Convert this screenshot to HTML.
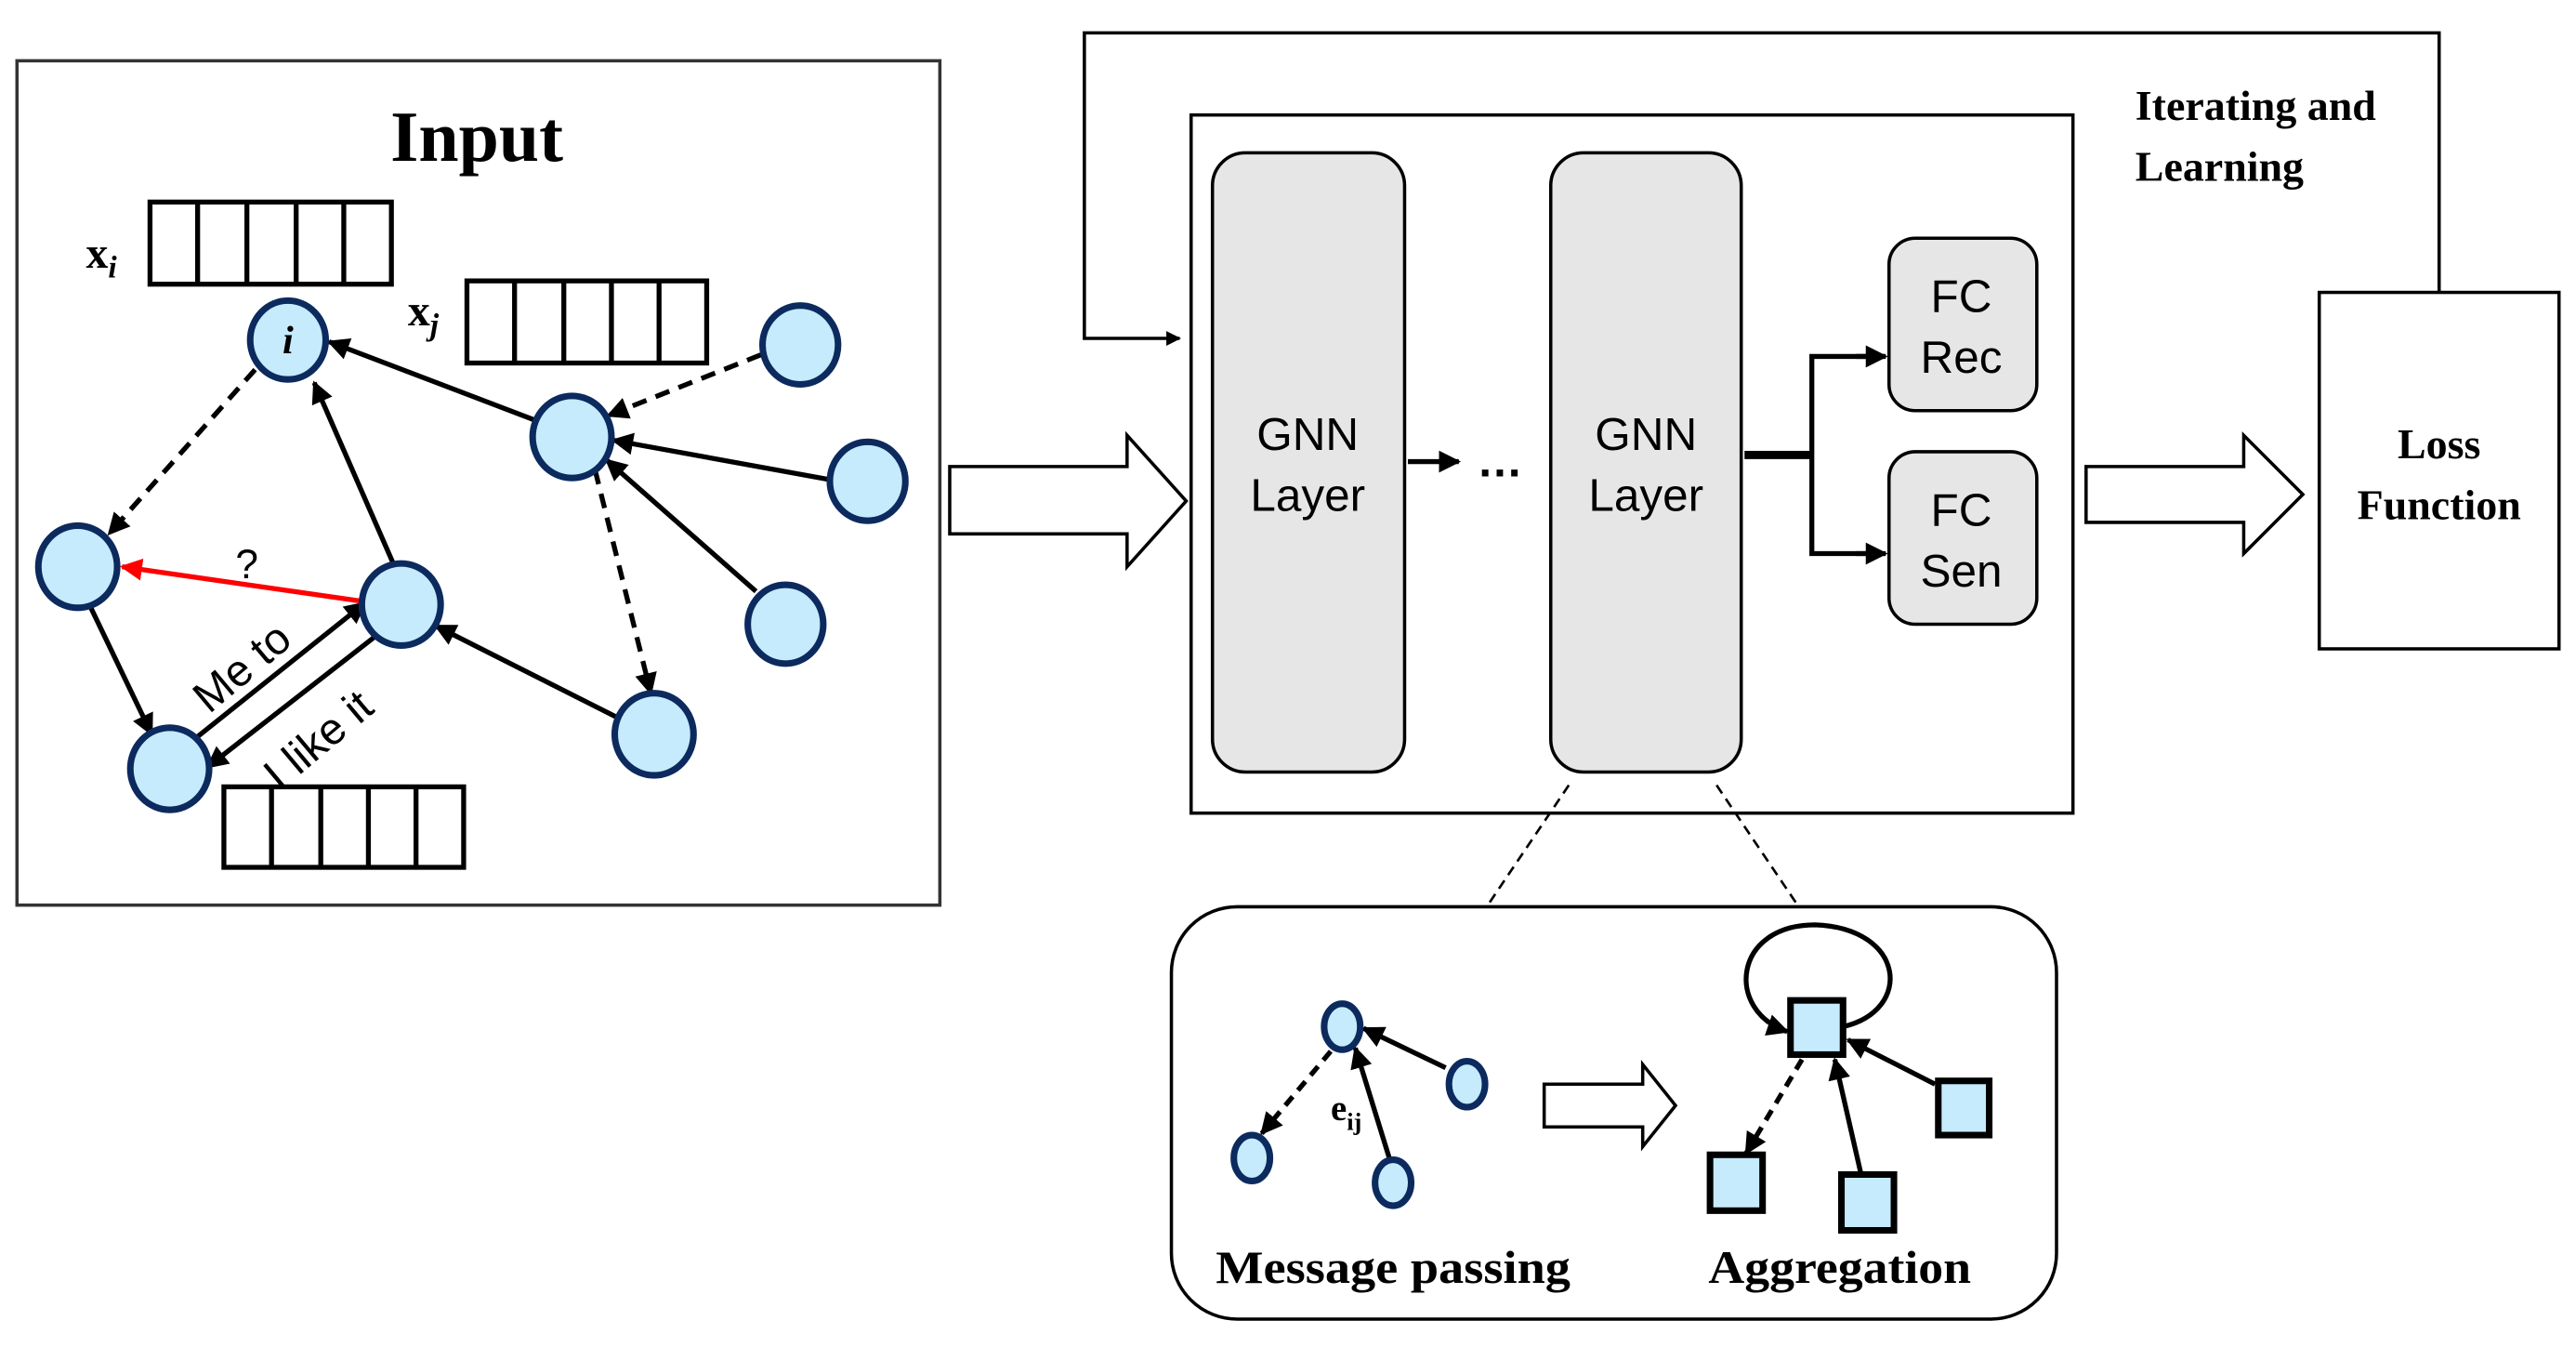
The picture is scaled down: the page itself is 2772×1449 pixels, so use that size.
<!DOCTYPE html>
<html><head><meta charset="utf-8"><style>
html,body{margin:0;padding:0;background:#fff;width:2772px;height:1449px;overflow:hidden}
svg{display:block}
.s{font-family:"Liberation Serif",serif;font-weight:bold}
.a{font-family:"Liberation Sans","DejaVu Sans",sans-serif}
</style></head><body>
<svg width="2772" height="1449" viewBox="0 0 1568 820" xmlns="http://www.w3.org/2000/svg">
<defs>
<marker id="ah" viewBox="0 0 10 10" refX="9" refY="5" markerWidth="4.5" markerHeight="4.5" orient="auto-start-reverse"><path d="M0,0 L10,5 L0,10 z" fill="#000"/></marker>
<marker id="ar" viewBox="0 0 10 10" refX="9" refY="5" markerWidth="4.5" markerHeight="4.5" orient="auto"><path d="M0,0 L10,5 L0,10 z" fill="#f00"/></marker>
</defs>
<rect x="10" y="37" width="562" height="514" fill="none" stroke="#333" stroke-width="2"/>
<text x="290" y="98" class="s" font-size="44" text-anchor="middle">Input</text>
<g fill="none" stroke="#000" stroke-width="3">
<rect x="91" y="123" width="147" height="50"/>
<line x1="120" y1="123" x2="120" y2="173"/><line x1="150" y1="123" x2="150" y2="173"/><line x1="180" y1="123" x2="180" y2="173"/><line x1="209" y1="123" x2="209" y2="173"/>
<rect x="284" y="171" width="146" height="50"/>
<line x1="313" y1="171" x2="313" y2="221"/><line x1="343" y1="171" x2="343" y2="221"/><line x1="372" y1="171" x2="372" y2="221"/><line x1="401" y1="171" x2="401" y2="221"/>
<rect x="136" y="479" width="146" height="49"/>
<line x1="165" y1="479" x2="165" y2="528"/><line x1="195" y1="479" x2="195" y2="528"/><line x1="224" y1="479" x2="224" y2="528"/><line x1="253" y1="479" x2="253" y2="528"/>
</g>
<text x="52" y="163" class="s" font-size="27">x<tspan font-size="19" font-style="italic" dy="6">i</tspan></text>
<text x="248" y="198" class="s" font-size="27">x<tspan font-size="19" font-style="italic" dy="6">j</tspan></text>
<g stroke="#000" stroke-width="3" fill="none" marker-end="url(#ah)">
<line x1="155" y1="225" x2="66" y2="325" stroke-dasharray="9,6"/>
<line x1="240" y1="345" x2="191" y2="233"/>
<line x1="326" y1="256" x2="200" y2="208"/>
<line x1="463" y1="216" x2="370" y2="253" stroke-dasharray="9,6"/>
<line x1="505" y1="292" x2="373" y2="268"/>
<line x1="460" y1="360" x2="369" y2="280"/>
<line x1="362" y1="286" x2="396" y2="422" stroke-dasharray="9,6"/>
<line x1="378" y1="438" x2="265" y2="381"/>
<line x1="55" y1="370" x2="92" y2="447"/>
<line x1="118" y1="450" x2="222" y2="367"/>
<line x1="230" y1="386" x2="126" y2="467"/>
</g>
<line x1="220" y1="366" x2="74" y2="345" stroke="#f00" stroke-width="3" marker-end="url(#ar)"/>
<text x="150" y="352" class="a" font-size="25" text-anchor="middle">?</text>
<text class="a" font-size="27" transform="translate(127,435) rotate(-40)">Me to</text>
<text class="a" font-size="27" transform="translate(170,482) rotate(-40)">I like it</text>
<g fill="#c5ebfc" stroke="#0c2a5e" stroke-width="4">
<ellipse cx="175" cy="207" rx="23" ry="24"/>
<ellipse cx="487" cy="210" rx="23" ry="24"/>
<ellipse cx="348" cy="266" rx="24" ry="25"/>
<ellipse cx="528" cy="293" rx="23" ry="24"/>
<ellipse cx="47" cy="345" rx="24" ry="25"/>
<ellipse cx="244" cy="368" rx="24" ry="25"/>
<ellipse cx="478" cy="380" rx="23" ry="24"/>
<ellipse cx="103" cy="468" rx="24" ry="25"/>
<ellipse cx="398" cy="447" rx="24" ry="25"/>
</g>
<text x="175" y="215" class="s" font-size="24" font-style="italic" text-anchor="middle">i</text>
<path d="M578,284 L686,284 L686,265 L722,305 L686,345 L686,325 L578,325 Z" fill="#fff" stroke="#000" stroke-width="2"/>
<polyline points="1485,178 1485,20 660,20 660,206 718,206" fill="none" stroke="#000" stroke-width="2" marker-end="url(#ah)"/>
<text x="1300" y="73" class="s" font-size="26">Iterating and</text>
<text x="1300" y="110" class="s" font-size="26">Learning</text>
<rect x="725" y="70" width="537" height="425" fill="#fff" stroke="#000" stroke-width="2"/>
<rect x="738" y="93" width="117" height="377" rx="20" fill="#e6e6e6" stroke="#000" stroke-width="2"/>
<rect x="944" y="93" width="116" height="377" rx="20" fill="#e6e6e6" stroke="#000" stroke-width="2"/>
<text x="796" y="274" class="a" font-size="28" text-anchor="middle">GNN</text>
<text x="796" y="311" class="a" font-size="28" text-anchor="middle">Layer</text>
<text x="1002" y="274" class="a" font-size="28" text-anchor="middle">GNN</text>
<text x="1002" y="311" class="a" font-size="28" text-anchor="middle">Layer</text>
<line x1="857" y1="281" x2="888" y2="281" stroke="#000" stroke-width="3" marker-end="url(#ah)"/>
<text x="913" y="290" class="a" font-size="28" font-weight="bold" text-anchor="middle">…</text>
<line x1="1062" y1="277" x2="1103" y2="277" stroke="#000" stroke-width="5"/>
<polyline points="1146,217 1103,217 1103,337 1146,337" fill="none" stroke="#000" stroke-width="3"/>
<line x1="1130" y1="217" x2="1148" y2="217" stroke="#000" stroke-width="3" marker-end="url(#ah)"/>
<line x1="1130" y1="337" x2="1148" y2="337" stroke="#000" stroke-width="3" marker-end="url(#ah)"/>
<rect x="1150" y="145" width="90" height="105" rx="16" fill="#e6e6e6" stroke="#000" stroke-width="2"/>
<rect x="1150" y="275" width="90" height="105" rx="16" fill="#e6e6e6" stroke="#000" stroke-width="2"/>
<text x="1194" y="190" class="a" font-size="28" text-anchor="middle">FC</text>
<text x="1194" y="227" class="a" font-size="28" text-anchor="middle">Rec</text>
<text x="1194" y="320" class="a" font-size="28" text-anchor="middle">FC</text>
<text x="1194" y="357" class="a" font-size="28" text-anchor="middle">Sen</text>
<path d="M1270,284 L1366,284 L1366,265 L1402,301 L1366,337 L1366,318 L1270,318 Z" fill="#fff" stroke="#000" stroke-width="2"/>
<rect x="1412" y="178" width="146" height="217" fill="#fff" stroke="#000" stroke-width="2"/>
<text x="1485" y="279" class="s" font-size="26" text-anchor="middle">Loss</text>
<text x="1485" y="316" class="s" font-size="26" text-anchor="middle">Function</text>
<line x1="955" y1="478" x2="905" y2="552" stroke="#000" stroke-width="1.5" stroke-dasharray="6,4"/>
<line x1="1045" y1="478" x2="1095" y2="552" stroke="#000" stroke-width="1.5" stroke-dasharray="6,4"/>
<rect x="713" y="552" width="539" height="251" rx="40" fill="#fff" stroke="#000" stroke-width="2"/>
<g stroke="#000" stroke-width="3" fill="none" marker-end="url(#ah)">
<line x1="880" y1="650" x2="830" y2="626"/>
<line x1="810" y1="640" x2="768" y2="690" stroke-dasharray="7,5"/>
<line x1="846" y1="706" x2="825" y2="638"/>
</g>
<g fill="#c5ebfc" stroke="#0c2a5e" stroke-width="4">
<ellipse cx="817" cy="625" rx="11" ry="14"/>
<ellipse cx="893" cy="660" rx="11" ry="14"/>
<ellipse cx="762" cy="705" rx="11" ry="14"/>
<ellipse cx="848" cy="720" rx="11" ry="14"/>
</g>
<text x="810" y="682" class="s" font-size="22">e<tspan font-size="15" dy="6">ij</tspan></text>
<path d="M940,660 L1000,660 L1000,648 L1020,673 L1000,698 L1000,686 L940,686 Z" fill="#fff" stroke="#000" stroke-width="2"/>
<path d="M1122,625 C1165,615 1160,565 1105,563 C1055,563 1050,615 1088,628" fill="none" stroke="#000" stroke-width="3" marker-end="url(#ah)"/>
<g stroke="#000" stroke-width="3" fill="none" marker-end="url(#ah)">
<line x1="1178" y1="660" x2="1125" y2="633"/>
<line x1="1097" y1="645" x2="1063" y2="702" stroke-dasharray="7,5"/>
<line x1="1133" y1="715" x2="1117" y2="645"/>
</g>
<g fill="#c5ebfc" stroke="#000" stroke-width="4">
<rect x="1090" y="609" width="32" height="33"/>
<rect x="1180" y="658" width="31" height="33"/>
<rect x="1041" y="703" width="32" height="34"/>
<rect x="1121" y="715" width="32" height="34"/>
</g>
<text x="848" y="781" class="s" font-size="28" text-anchor="middle" textLength="216" lengthAdjust="spacingAndGlyphs">Message passing</text>
<text x="1120" y="781" class="s" font-size="28" text-anchor="middle" textLength="160" lengthAdjust="spacingAndGlyphs">Aggregation</text>
</svg>
</body></html>
